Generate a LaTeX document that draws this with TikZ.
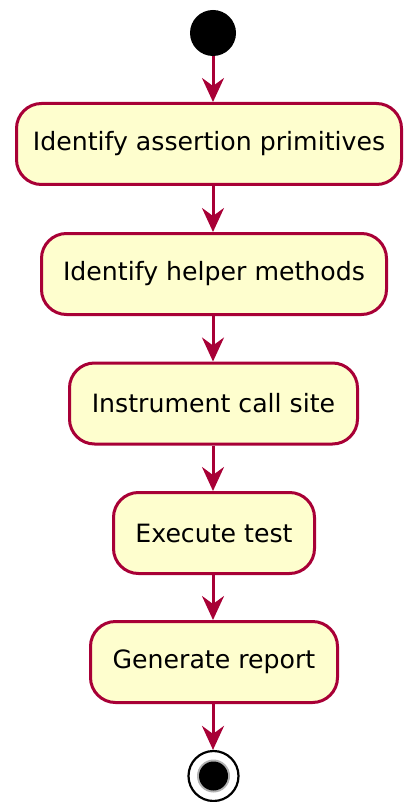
\documentclass[tikz,border=0pt]{standalone}
\usepackage{fontspec}
\setmainfont{DejaVu Sans}
\usetikzlibrary{arrows.meta}
\definecolor{umlred}{HTML}{A80036}
\definecolor{umlfill}{HTML}{FEFECE}
\tikzset{
  actbox/.style={draw=umlred, fill=umlfill, line width=3pt, rounded corners=25pt,
    minimum height=81pt, inner sep=0pt, font=\fontsize{25.2}{30}\selectfont, text=black},
  flow/.style={draw=umlred, line width=3pt, -{Stealth[length=24pt,width=22pt,inset=8pt]}}
}
\begin{document}
\begin{tikzpicture}[x=1pt,y=-1pt]
\useasboundingbox (0,0) rectangle (406,802);
\node[circle, fill=black, minimum size=46pt, inner sep=0pt] (start) at (213,33) {};
\node[actbox, minimum width=385pt] (b1) at (209,144) {\raisebox{-2pt}{Identify assertion primitives}};
\node[actbox, minimum width=345pt] (b2) at (214,274) {\raisebox{-2pt}{Identify helper methods}};
\node[actbox, minimum width=288pt] (b3) at (213.5,403.5) {\raisebox{-2pt}{Instrument call site}};
\node[actbox, minimum width=201pt] (b4) at (214,533) {\raisebox{-2pt}{Execute test}};
\node[actbox, minimum width=247pt] (b5) at (214,662) {\raisebox{-2pt}{Generate report}};
\node[circle, draw=black, line width=2.2pt, fill=white, minimum size=50pt, inner sep=0pt] (stop) at (213.5,776) {};
\fill[gray!60] (stop.center) circle (16.5pt);
\fill[black] (stop.center) circle (14.5pt);
\draw[flow] (start.south) -- (start.south |- b1.north);
\draw[flow] (b1.south -| start.south) -- (start.south |- b2.north);
\draw[flow] (b2.south -| start.south) -- (start.south |- b3.north);
\draw[flow] (b3.south -| start.south) -- (start.south |- b4.north);
\draw[flow] (b4.south -| start.south) -- (start.south |- b5.north);
\draw[flow] (b5.south -| start.south) -- (start.south |- stop.north);
\end{tikzpicture}
\end{document}
